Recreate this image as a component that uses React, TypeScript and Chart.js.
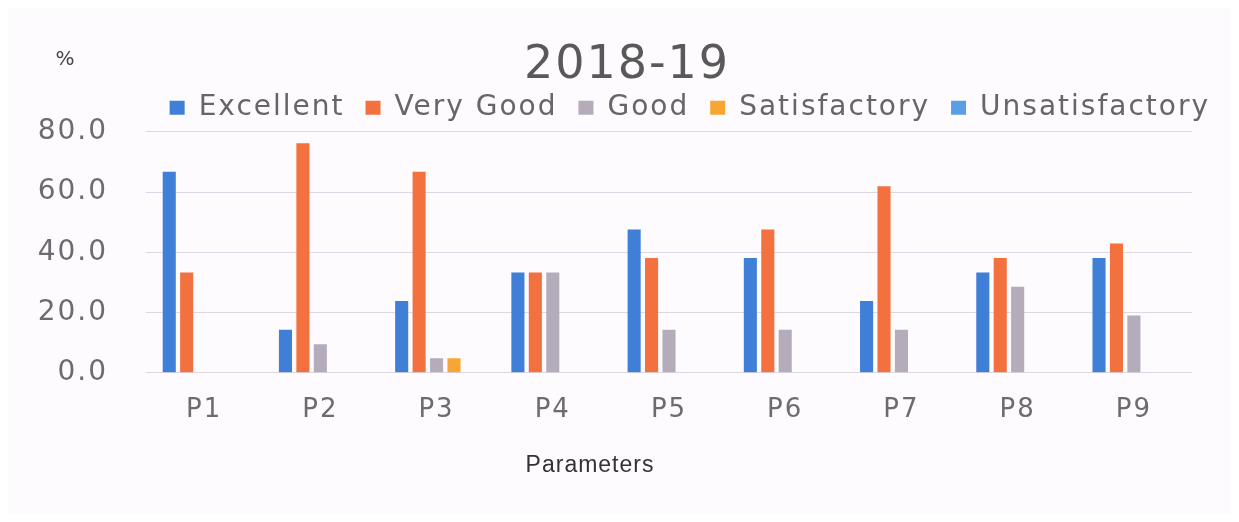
import { useEffect, useRef } from 'react';
import { Chart, registerables } from 'chart.js';

Chart.register(...registerables);

const categories = ['P1', 'P2', 'P3', 'P4', 'P5', 'P6', 'P7', 'P8', 'P9'];
const excellent = [66.7, 14.3, 23.8, 33.3, 47.6, 38.1, 23.8, 33.3, 38.1];
const veryGood = [33.3, 76.2, 66.7, 33.3, 38.1, 47.6, 61.9, 38.1, 42.9];
const good = [0, 9.5, 4.8, 33.3, 14.3, 14.3, 14.3, 28.6, 19.0];
const satisfactory = [0, 0, 4.8, 0, 0, 0, 0, 0, 0];
const unsatisfactory = [0, 0, 0, 0, 0, 0, 0, 0, 0];
const yTicks = [0, 20, 40, 60, 80];

const seriesNames = ['Excellent', 'Very Good', 'Good', 'Satisfactory', 'Unsatisfactory'];
const seriesColors = ['#3f7fd8', '#f3703f', '#b4abbb', '#f8a633', '#5b9ee6'];
const seriesValues = [excellent, veryGood, good, satisfactory, unsatisfactory];

const FONT = '"DejaVu Sans", sans-serif';
const SPACING = '2px';

const spacingPlugin = {
  id: 'letterSpacing',
  beforeUpdate(chart: any) {
    (chart.ctx as any).letterSpacing = SPACING;
  },
  beforeDraw(chart: any) {
    (chart.ctx as any).letterSpacing = SPACING;
  },
};

const annotationsPlugin = {
  id: 'extraTexts',
  afterDraw(chart: any) {
    const { ctx, chartArea } = chart;
    ctx.save();
    ctx.textAlign = 'center';
    ctx.textBaseline = 'middle';
    ctx.fillStyle = '#444444';
    ctx.font = `20px ${FONT}`;
    (ctx as any).letterSpacing = '0px';
    ctx.fillText('%', chartArea.left - 81, chartArea.top - 72);
    ctx.fillStyle = '#333333';
    ctx.font = '23px "Liberation Sans", Arial, sans-serif';
    (ctx as any).letterSpacing = '1px';
    ctx.fillText(
      'Parameters',
      chartArea.left + 0.4245 * (chartArea.right - chartArea.left),
      chartArea.bottom + 93
    );
    ctx.restore();
  },
};

export default function App() {
  const ref = useRef<HTMLCanvasElement>(null);

  useEffect(() => {
    if (!ref.current) return;
    const chart = new Chart(ref.current, {
      type: 'bar',
      data: {
        labels: categories,
        datasets: seriesNames.map((name, i) => ({
          label: name,
          data: seriesValues[i],
          backgroundColor: seriesColors[i],
          borderWidth: 0,
          categoryPercentage: 0.75,
          barPercentage: 0.75,
        })),
      },
      options: {
        animation: false,
        responsive: true,
        maintainAspectRatio: false,
        devicePixelRatio: 1,
        layout: { padding: { left: 15, right: 0, top: 0, bottom: 66 } },
        plugins: {
          title: {
            display: true,
            text: '2018-19',
            color: '#595959',
            font: { family: FONT, size: 46, weight: 'normal', lineHeight: 0.3 },
            padding: { top: 51, bottom: 0 },
          },
          legend: {
            display: true,
            position: 'top',
            align: 'end',
            labels: {
              color: '#666666',
              font: { family: FONT, size: 28 },
              boxWidth: 15,
              boxHeight: 14,
              padding: 21,
            },
          },
          tooltip: { enabled: false },
        },
        scales: {
          x: {
            grid: { display: false, drawTicks: false },
            border: { display: false },
            ticks: {
              color: '#6e6a72',
              font: { family: FONT, size: 26 },
              padding: 22,
            },
          },
          y: {
            min: 0,
            max: 80,
            afterBuildTicks: (scale: any) => {
              scale.ticks = yTicks.map((v) => ({ value: v }));
            },
            afterFit: (scale: any) => {
              scale.width = 123;
            },
            grid: { color: '#dcd7e2', lineWidth: 1, drawTicks: false },
            border: { display: false },
            ticks: {
              color: '#6e6a72',
              font: { family: FONT, size: 28 },
              padding: 38,
              callback: (v: any) => Number(v).toFixed(1),
            },
          },
          yRight: {
            type: 'linear',
            position: 'right',
            display: true,
            grid: { display: false, drawTicks: false },
            border: { display: false },
            ticks: { display: false },
            afterFit: (scale: any) => {
              scale.width = 39;
            },
          },
        },
      },
      plugins: [spacingPlugin, annotationsPlugin],
    });
    return () => chart.destroy();
  }, []);

  return (
    <div
      style={{
        position: 'relative',
        width: 1223,
        height: 506,
        background: '#fdfbfd',
        outline: '1px solid #d6d2da',
      }}
    >
      <canvas ref={ref} />
    </div>
  );
}
